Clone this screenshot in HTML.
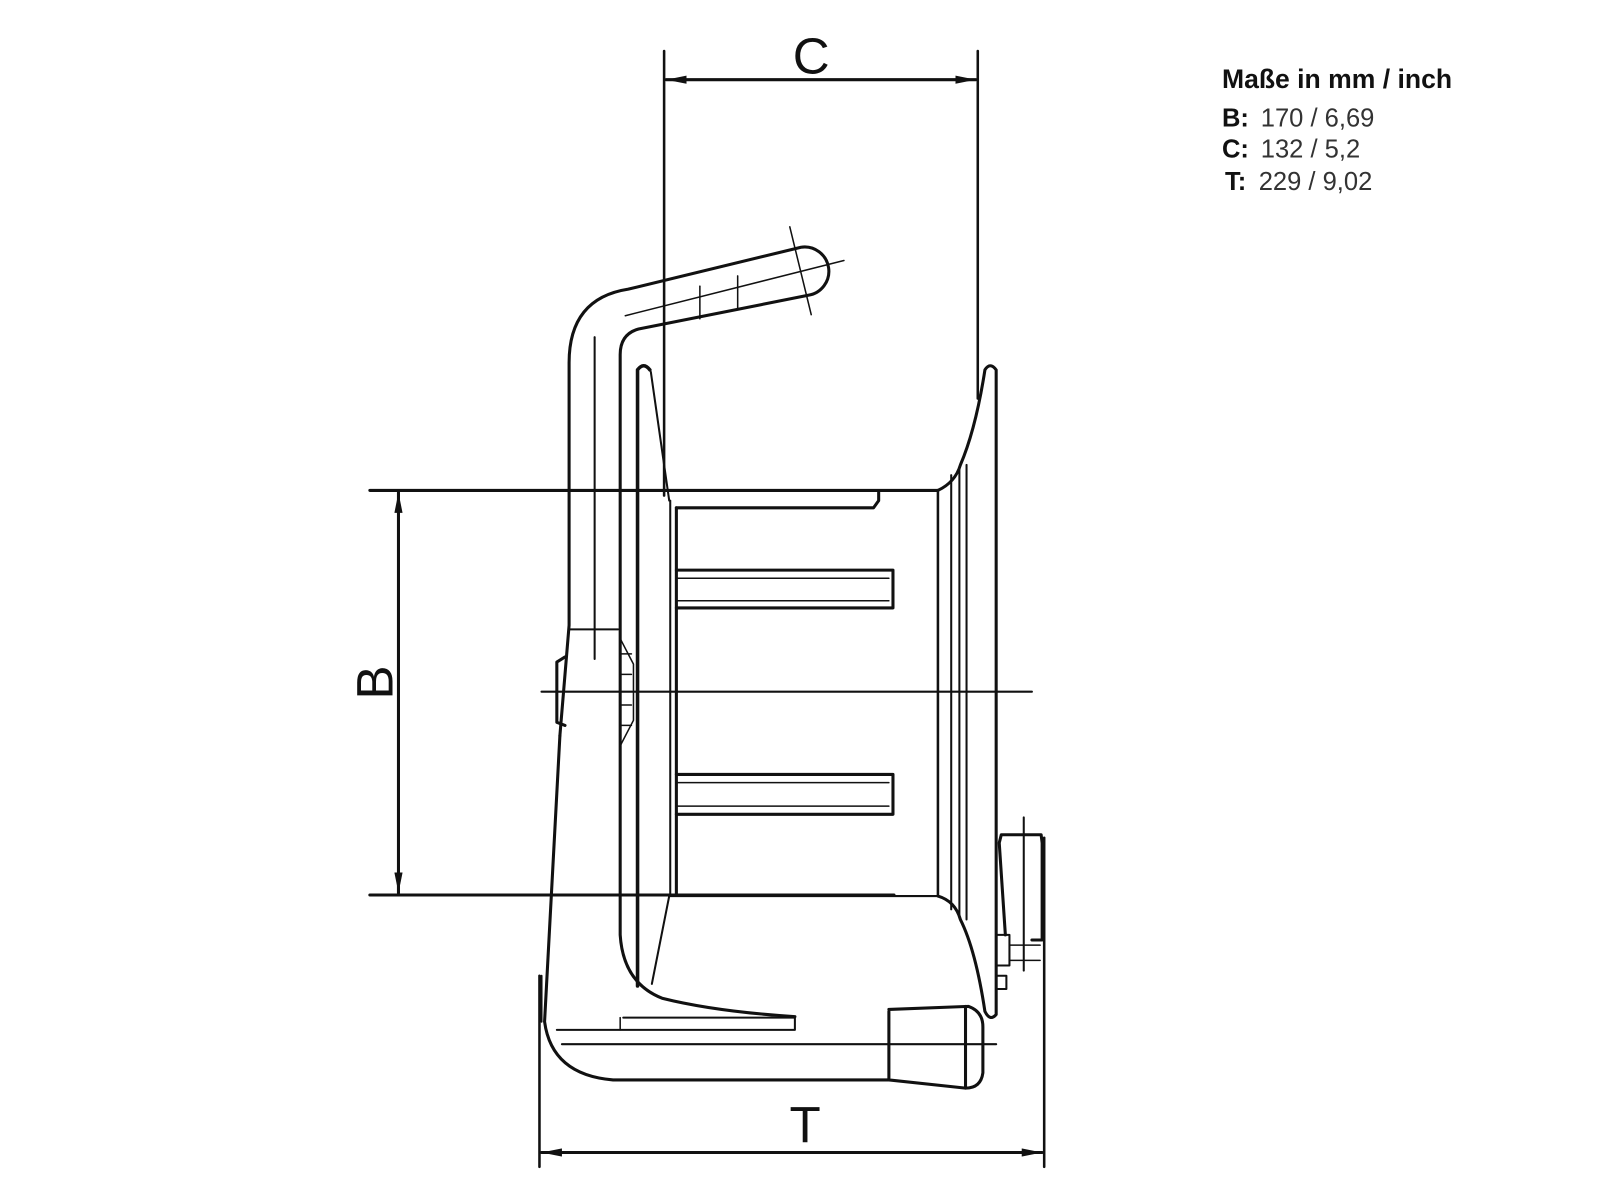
<!DOCTYPE html>
<html><head><meta charset="utf-8"><style>
html,body{margin:0;padding:0;background:#fff;}
svg{display:block;}
</style></head><body>
<svg width="1600" height="1200" viewBox="0 0 1566 1174.5" xmlns="http://www.w3.org/2000/svg">
<defs>
<marker id="a" viewBox="0 0 20 8" refX="20" refY="4" markerWidth="20" markerHeight="8" markerUnits="userSpaceOnUse" orient="auto-start-reverse"><path d="M0 0L20 4L0 8z" fill="#111"/></marker>
</defs>
<g stroke="#111" fill="none" stroke-linecap="round" stroke-linejoin="round">
<line x1="650" y1="50" x2="650" y2="485" stroke-width="2.5"/>
<line x1="957" y1="50" x2="957" y2="390" stroke-width="2.5"/>
<line x1="652" y1="78" x2="955" y2="78" stroke-width="3" marker-start="url(#a)" marker-end="url(#a)"/>
<line x1="362" y1="480" x2="918" y2="480" stroke-width="3"/>
<line x1="362" y1="876" x2="875" y2="876" stroke-width="3"/>
<line x1="390" y1="482" x2="390" y2="874" stroke-width="3" marker-start="url(#a)" marker-end="url(#a)"/>
<line x1="530" y1="677" x2="1010" y2="677" stroke-width="2"/>
<line x1="528" y1="955" x2="528" y2="1142" stroke-width="2.5"/>
<line x1="1022" y1="820" x2="1022" y2="1142" stroke-width="2.5"/>
<line x1="530" y1="1128" x2="1020" y2="1128" stroke-width="3" marker-start="url(#a)" marker-end="url(#a)"/>

<path d="M548 720 L557 612 L557 355 Q557 292 615 283 L784 242 A23 23 0 0 1 791 289 L625 322 Q607 327 607 347 L607 915 Q610 962 648 977 Q700 990 778 995" stroke-width="3"/>
<line x1="612" y1="309" x2="826" y2="255" stroke-width="1.5"/>
<line x1="773" y1="222" x2="794" y2="308" stroke-width="1.5"/>
<line x1="685" y1="280" x2="685" y2="312" stroke-width="1.5"/>
<line x1="722" y1="270" x2="722" y2="302" stroke-width="1.5"/>
<line x1="582" y1="330" x2="582" y2="645" stroke-width="2"/>
<line x1="557" y1="616" x2="605" y2="616" stroke-width="2"/>
<path d="M548 720 L533 1000 Q540 1052 600 1057 L870 1057" stroke-width="3"/>
<path d="M530 955 L530 1000" stroke-width="2"/>
<path d="M610 996 L778 996 L778 1008 L545 1008" stroke-width="2"/>
<line x1="607" y1="996" x2="607" y2="1008" stroke-width="1.5"/>
<line x1="550" y1="1022" x2="975" y2="1022" stroke-width="2"/>
<path d="M870 990 L870 1057 M870 988 L948 985 Q962 990 962 1005 L962 1050 Q960 1065 945 1065 L870 1057" stroke-width="3"/>
<line x1="945" y1="985" x2="945" y2="1065" stroke-width="3"/>
<path d="M553 643 L545 648 L545 707 L553 710" stroke-width="3"/>
<path d="M607 625 L620 650 L620 705 L607 730 M607 640 L618 640 M607 660 L618 660 M607 690 L618 690 M607 710 L618 710" stroke-width="1.5"/>

<path d="M624 965 L624 362 Q630 354 636 362" stroke-width="3.5"/>
<path d="M637 364 L655 490" stroke-width="2"/>
<path d="M655 877 L638 963" stroke-width="2"/>
<path d="M656 490 L656 875" stroke-width="2"/>
<path d="M662 497 L662 875" stroke-width="3"/>
<path d="M662 497 L855 497 L860 490 L860 482" stroke-width="3"/>
<path d="M662 558 L874 558 L874 595 L662 595" stroke-width="3"/>
<path d="M662 566 L870 566 M662 588 L870 588" stroke-width="1.5"/>
<path d="M662 758 L874 758 L874 797 L662 797" stroke-width="3"/>
<path d="M662 766 L870 766 M662 789 L870 789" stroke-width="1.5"/>
<line x1="918" y1="480" x2="918" y2="877" stroke-width="2.5"/>
<line x1="655" y1="877" x2="918" y2="877" stroke-width="2"/>
<path d="M918 480 Q935 472 940 455 Q955 420 964 362 Q969 354 975 362 L975 993 Q969 1000 964 990 Q955 930 940 900 Q935 882 918 877" stroke-width="3"/>
<line x1="931" y1="465" x2="931" y2="890" stroke-width="2"/>
<line x1="939" y1="458" x2="939" y2="895" stroke-width="2"/>
<line x1="946" y1="455" x2="946" y2="900" stroke-width="2"/>
<path d="M978 825 L980 817 L1019 817 L1020 825 L1020 920 L1010 920 M978 825 L984 915" stroke-width="3"/>
<line x1="1002" y1="800" x2="1002" y2="950" stroke-width="2"/>
<path d="M975 915 L988 915 L988 945 L975 945 z M975 955 L985 955 L985 968 L975 968" stroke-width="2"/>
<line x1="988" y1="925" x2="1018" y2="925" stroke-width="1.5"/>
<line x1="988" y1="940" x2="1018" y2="940" stroke-width="1.5"/>
</g>
<g font-family="'Liberation Sans',sans-serif" fill="#111">
<text x="794" y="72" font-size="50" text-anchor="middle">C</text>
<text x="788" y="1118" font-size="50" text-anchor="middle">T</text>
<text transform="translate(384,668) rotate(-90)" font-size="50" text-anchor="middle">B</text>
<text x="1196" y="86" font-size="26" font-weight="bold">Maße in mm / inch</text>
<text x="1196" y="124" font-size="25"><tspan font-weight="bold">B:</tspan><tspan x="1234" fill="#333">170 / 6,69</tspan></text>
<text x="1196" y="154" font-size="25"><tspan font-weight="bold">C:</tspan><tspan x="1234" fill="#333">132 / 5,2</tspan></text>
<text x="1199" y="186" font-size="25"><tspan font-weight="bold">T:</tspan><tspan x="1232" fill="#333">229 / 9,02</tspan></text>
</g>
</svg>
</body></html>
